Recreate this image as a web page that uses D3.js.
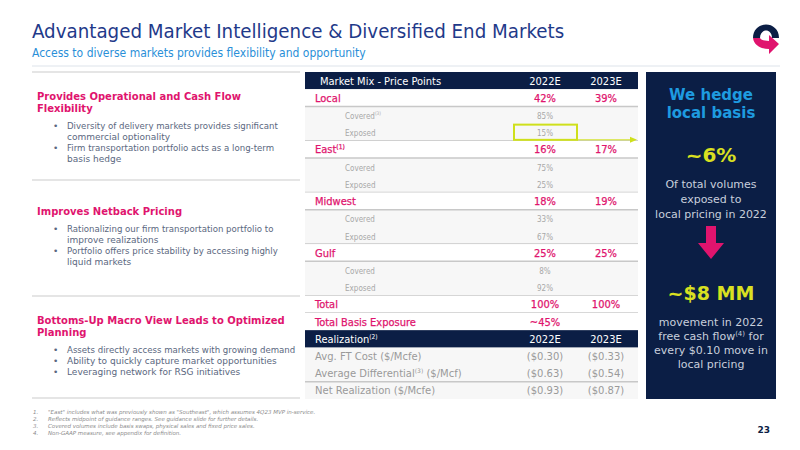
<!DOCTYPE html>
<html><head><meta charset="utf-8">
<script src="https://cdn.jsdelivr.net/npm/d3@7"></script>
<style>body{margin:0;background:#fff}svg{display:block;font-family:"DejaVu Sans",Verdana,sans-serif}</style>
</head><body><div class="canvas"></div>
<script>
// data
const regions = ['Local', 'East', 'Midwest', 'Gulf']
const regionSup = ['', '(1)', '', '']
const mix2022 = ['42%', '16%', '18%', '25%']
const mix2023 = ['39%', '17%', '19%', '25%']
const covered = ['85%', '75%', '33%', '8%']
const exposed = ['15%', '25%', '67%', '92%']
const totals2022 = ['100%', '~45%']
const totals2023 = ['100%', '']
const realLabels = ['Avg. FT Cost ($/Mcfe)', 'Average Differential', 'Net Realization ($/Mcfe)']
const real2022 = ['($0.30)', '($0.63)', '($0.93)']
const real2023 = ['($0.33)', '($0.54)', '($0.87)']
const years = ['2022E', '2023E']

const navy = '#0b1e45', pink = '#e0146e', grey = '#9a9a9a'
const svg = d3.select('.canvas').append('svg').attr('width', 800).attr('height', 450)

// header
svg.append('text').attr('x', 32).attr('y', 38).attr('font-size', 20.3).attr('fill', '#1f3a8a')
  .attr('font-family', '"DejaVu Sans Condensed",sans-serif').text('Advantaged Market Intelligence & Diversified End Markets')
svg.append('text').attr('x', 32).attr('y', 57).attr('font-size', 12).attr('fill', '#2a8fd8')
  .attr('font-family', '"DejaVu Sans Condensed",sans-serif').text('Access to diverse markets provides flexibility and opportunity')
svg.append('line').attr('x1', 32).attr('x2', 780).attr('y1', 66).attr('y2', 66).attr('stroke', '#dde3ea')

// logo
const logo = svg.append('g').attr('transform', 'translate(766,34)')
logo.append('path').attr('d', 'M-13,4 C-13,-14 13,-14 13,4 L6,4 C6,-6 -6,-6 -6,4 Z').attr('fill', navy)
logo.append('path').attr('d', 'M-13,4 C-12,12 -4,15 3,15 L3,20 L13,10 L3,1 L3,7 C-2,7 -5,6 -6,4 Z').attr('fill', pink)

// rows
const rows = []
regions.forEach((r, i) => {
  rows.push({ type: 'main', label: r, sup: regionSup[i], a: mix2022[i], b: mix2023[i] })
  rows.push({ type: 'sub', label: 'Covered', sup: i === 0 ? '(3)' : '', a: covered[i], b: '' })
  rows.push({ type: 'sub', label: 'Exposed', sup: '', a: exposed[i], b: '', last: true })
})
rows.push({ type: 'main', label: 'Total', a: totals2022[0], b: totals2023[0] })
rows.push({ type: 'main', label: 'Total Basis Exposure', a: totals2022[1], b: totals2023[1] })
rows.push({ type: 'head', label: 'Realization', sup: '(2)', a: years[0], b: years[1] })
realLabels.forEach((l, i) => rows.push({ type: 'real', label: l, sup: i === 1 ? '(3)' : '', suffix: i === 1 ? ' ($/Mcf)' : '', a: real2022[i], b: real2023[i] }))
const allRows = [{ type: 'head', label: 'Market Mix - Price Points', a: years[0], b: years[1] }].concat(rows)

const y = d3.scaleBand().domain(d3.range(allRows.length)).range([72, 399]).paddingInner(0)
const colX = { label: 315, a: 545, b: 606 }
const tx = 305, tw = 333

const g = svg.append('g')
g.append('rect').attr('x', tx).attr('y', 89).attr('width', tw).attr('height', 310).attr('fill', '#f7f7f7')
allRows.forEach((d, i) => {
  const y0 = y(i), h = y.bandwidth(), cy = y0 + h / 2 + 4
  if (d.type === 'head') g.append('rect').attr('x', tx).attr('y', y0).attr('width', tw).attr('height', h).attr('fill', navy)
  if (d.type === 'main') g.append('rect').attr('x', tx).attr('y', y0).attr('width', tw).attr('height', h).attr('fill', '#fff')
  const col = d.type === 'head' ? '#fff' : d.type === 'main' ? pink : d.type === 'sub' ? '#a8a8a8' : grey
  const fs = d.type === 'sub' ? 8 : d.type === 'real' ? 10 : 11
  const fam = d.type === 'real' ? '"DejaVu Sans",sans-serif' : '"DejaVu Sans Condensed",sans-serif'
  const lx = d.type === 'sub' ? 345 : d.type === 'head' && i === 0 ? 320 : colX.label
  const t = g.append('text').attr('x', lx).attr('y', cy).attr('font-size', fs).attr('fill', col)
    .attr('font-family', fam).attr('stroke', d.type === 'main' ? col : 'none').attr('stroke-width', 0.25).text(d.label)
  if (d.sup) t.append('tspan').attr('font-size', fs * 0.6).attr('dy', -4).text(d.sup)
  if (d.suffix) t.append('tspan').attr('dy', 4).text(d.suffix)
  ;[['a', d.a], ['b', d.b]].forEach(([k, v]) => g.append('text').attr('x', colX[k]).attr('y', cy)
    .attr('text-anchor', 'middle').attr('font-size', fs).attr('fill', col)
    .attr('stroke', d.type === 'main' ? col : 'none').attr('stroke-width', 0.25)
    .attr('font-family', fam).text(v))
  if (d.type === 'main' && d.label !== 'Total Basis Exposure' || (d.last) || (d.type === 'real' && i === allRows.length - 2))
    g.append('line').attr('x1', tx).attr('x2', tx + tw).attr('y1', y0 + h).attr('y2', y0 + h).attr('stroke', '#c8c8c8').attr('stroke-width', 1.5)
})
// highlight box + arrow
g.append('rect').attr('x', 514).attr('y', y(3) + 1).attr('width', 63).attr('height', y.bandwidth() - 2)
  .attr('fill', 'none').attr('stroke', '#cfe01c').attr('stroke-width', 2)
g.append('line').attr('x1', 577).attr('x2', 630).attr('y1', y(3) + y.bandwidth() - 1).attr('y2', y(3) + y.bandwidth() - 1).attr('stroke', '#cfe01c')
g.append('path').attr('d', `M630,${y(3) + y.bandwidth() - 4} L637,${y(3) + y.bandwidth() - 1} L630,${y(3) + y.bandwidth() + 2}Z`).attr('fill', '#cfe01c')

// right panel
const p = svg.append('g').attr('text-anchor', 'middle')
p.append('rect').attr('x', 646).attr('y', 72).attr('width', 130).attr('height', 327).attr('fill', navy)
const cx = 711
;[['We hedge', 100], ['local basis', 118]].forEach(([t, yy]) => p.append('text').attr('x', cx).attr('y', yy).attr('font-size', 15).attr('font-weight', 'bold').attr('fill', '#1e9be0').text(t))
p.append('text').attr('x', cx).attr('y', 162).attr('font-size', 20).attr('font-weight', 'bold').attr('fill', '#d9e021').text('~6%')
;['Of total volumes', 'exposed to', 'local pricing in 2022'].forEach((t, i) => p.append('text').attr('x', cx).attr('y', 188 + i * 15).attr('font-size', 11).attr('fill', '#c8cfdc').text(t))
p.append('path').attr('d', `M${cx - 5},226 h10 v17 h8 l-13,16 l-13,-16 h8 z`).attr('fill', pink)
p.append('text').attr('x', cx).attr('y', 300).attr('font-size', 19).attr('font-weight', 'bold').attr('fill', '#d9e021').text('~$8 MM')
const lines = ['movement in 2022', 'free cash flow', 'every $0.10 move in', 'local pricing']
lines.forEach((t, i) => {
  const tt = p.append('text').attr('x', cx).attr('y', 326 + i * 14).attr('font-size', 11).attr('fill', '#c8cfdc').text(t)
  if (i === 1) { tt.append('tspan').attr('font-size', 7).attr('dy', -4).text('(4)'); tt.append('tspan').attr('dy', 4).text(' for') }
})

// left column
const left = svg.append('g')
const seps = [72, 180, 296, 398]
seps.forEach(v => left.append('line').attr('x1', 32).attr('x2', 300).attr('y1', v).attr('y2', v).attr('stroke', '#dcdcdc').attr('stroke-width', 1.5))
const sections = [
  { head: ['Provides Operational and Cash Flow', 'Flexibility'], y: 100, bullets: [['Diversity of delivery markets provides significant', 'commercial optionality'], ['Firm transportation portfolio acts as a long-term', 'basis hedge']] },
  { head: ['Improves Netback Pricing'], y: 215, bullets: [['Rationalizing our firm transportation portfolio to', 'improve realizations'], ['Portfolio offers price stability by accessing highly', 'liquid markets']] },
  { head: ['Bottoms-Up Macro View Leads to Optimized', 'Planning'], y: 324, bullets: [['Assets directly access markets with growing demand'], ['Ability to quickly capture market opportunities'], ['Leveraging network for RSG initiatives']] }
]
sections.forEach(s => {
  s.head.forEach((h, i) => left.append('text').attr('x', 37).attr('y', s.y + i * 12).attr('font-size', 10).attr('font-weight', 'bold').attr('fill', pink).text(h))
  let yy = s.y + s.head.length * 12 + 5
  s.bullets.forEach(b => {
    left.append('text').attr('x', 53).attr('y', yy).attr('font-size', 9).attr('fill', '#5a6780').text('•')
    b.forEach(l => { left.append('text').attr('x', 67).attr('y', yy).attr('font-size', l.length > 48 ? 8.6 : 9).attr('fill', '#5a6780').text(l); yy += 11 })
  })
})
const notes = ['"East" includes what was previously shown as "Southeast", which assumes 4Q23 MVP in-service.',
  'Reflects midpoint of guidance ranges. See guidance slide for further details.',
  'Covered volumes include basis swaps, physical sales and fixed price sales.',
  'Non-GAAP measure, see appendix for definition.']
notes.forEach((n, i) => {
  left.append('text').attr('x', 33).attr('y', 414 + i * 7).attr('font-size', 5.5).attr('font-style', 'italic').attr('fill', '#8a8a8a').text((i + 1) + '.')
  left.append('text').attr('x', 48).attr('y', 414 + i * 7).attr('font-size', 5.5).attr('font-style', 'italic').attr('fill', '#8a8a8a').text(n)
})
svg.append('text').attr('x', 770).attr('y', 433).attr('text-anchor', 'end').attr('font-size', 9).attr('font-weight', 'bold').attr('fill', navy).text('23')
</script></body></html>
